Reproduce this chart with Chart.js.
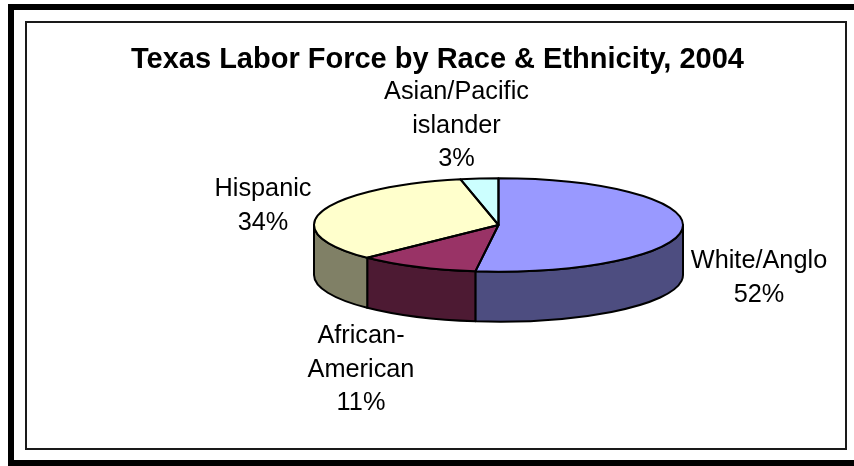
<!DOCTYPE html>
<html>
<head>
<meta charset="utf-8">
<title>Texas Labor Force by Race & Ethnicity, 2004</title>
<script src="https://cdn.jsdelivr.net/npm/chart.js@4"></script>
<style>
  html, body { margin: 0; padding: 0; background: #fff; }
  body { width: 854px; height: 466px; position: relative; overflow: hidden; }
  #outer { position: absolute; left: 8px; top: 4px; width: 900px; height: 450px; border: 6px solid #000; }
  #inner { position: absolute; left: 25px; top: 21px; width: 818px; height: 425px; border: 2px solid #1a1a1a; }
  canvas { position: absolute; left: 0; top: 0; }
</style>
</head>
<body>
<div id="outer"></div>
<div id="inner"></div>
<canvas id="myChart" width="854" height="466"></canvas>
<script>
const chartTitle = "Texas Labor Force by Race & Ethnicity, 2004";
const categories = ["White/Anglo", "African-American", "Hispanic", "Asian/Pacific islander"];
// the labels show them rounded
const shares = [52, 10.6, 34.1, 3.3];
const topColors = ["#9999FF", "#993366", "#FFFFCC", "#CCFFFF"];
const wallColors = ["#4D4D80", "#4D1A33", "#808066", "#668080"];
// label lines, split the way the picture wraps them
const labelLines = [["White/Anglo"], ["African-", "American"], ["Hispanic"], ["Asian/Pacific", "islander"]];
const labelCenters = [[759, 278], [361, 370], [263, 206], [456.5, 126]];

const CX = 498.5, CY = 225, RX = 184.5, RY = 46.7, DEPTH = 50;

// squash the round pie into an ellipse
function squash(ctx) {
  ctx.translate(CX, CY);
  ctx.scale(1, RY / RX);
  ctx.translate(-CX, -CY);
}

const pie3d = {
  id: "pie3d",
  beforeDatasetDraw(chart, args) {
    const ctx = chart.ctx;
    ctx.save();
    ctx.strokeStyle = "#000";
    ctx.lineWidth = 2;
    ctx.lineJoin = "round";
    // front wall, only the part of each slice that faces the viewer
    args.meta.data.forEach((arc, i) => {
      const a = arc.startAngle, b = arc.endAngle;
      const ranges = [[a, b], [a + 2 * Math.PI, b + 2 * Math.PI], [a - 2 * Math.PI, b - 2 * Math.PI]];
      ranges.forEach((r) => {
        const s = Math.max(r[0], 0), e = Math.min(r[1], Math.PI);
        if (e <= s) return;
        ctx.beginPath();
        ctx.ellipse(CX, CY, RX, RY, 0, s, e);
        ctx.ellipse(CX, CY + DEPTH, RX, RY, 0, e, s, true);
        ctx.closePath();
        ctx.fillStyle = wallColors[i];
        ctx.fill();
        ctx.stroke();
      });
    });
    ctx.restore();
    ctx.save();
    squash(ctx);
  },
  afterDatasetDraw(chart, args) {
    const ctx = chart.ctx;
    ctx.restore();
    ctx.save();
    ctx.strokeStyle = "#000";
    ctx.lineWidth = 2;
    ctx.lineJoin = "round";
    args.meta.data.forEach((arc) => {
      ctx.beginPath();
      ctx.moveTo(CX, CY);
      ctx.ellipse(CX, CY, RX, RY, 0, arc.startAngle, arc.endAngle);
      ctx.closePath();
      ctx.stroke();
    });
    ctx.restore();
  },
  afterDraw(chart) {
    const ctx = chart.ctx;
    ctx.save();
    ctx.fillStyle = "#000";
    ctx.textAlign = "center";
    ctx.textBaseline = "middle";
    ctx.font = "bold 29px 'Liberation Sans'";
    ctx.fillText(chartTitle, 437.5, 60);
    ctx.font = "25.3px 'Liberation Sans'";
    const lineH = 33.5;
    categories.forEach((c, i) => {
      const lines = labelLines[i].concat(Math.round(shares[i]) + "%");
      const top = labelCenters[i][1] - (lines.length - 1) * lineH / 2;
      lines.forEach((t, j) => ctx.fillText(t, labelCenters[i][0], top + j * lineH));
    });
    ctx.restore();
  },
};

const ctx = document.getElementById("myChart").getContext("2d");
const myChart = new Chart(ctx, {
  type: "pie",
  data: {
    labels: categories,
    datasets: [{ data: shares, backgroundColor: topColors, borderWidth: 0, clip: false }],
  },
  options: {
    responsive: false,
    animation: false,
    layout: {
      padding: { left: CX - RX, right: 854 - CX - RX, top: CY - RX, bottom: 466 - CY - RX },
    },
    plugins: { legend: { display: false }, title: { display: false }, tooltip: { enabled: false } },
  },
  plugins: [pie3d],
});
</script>
</body>
</html>
